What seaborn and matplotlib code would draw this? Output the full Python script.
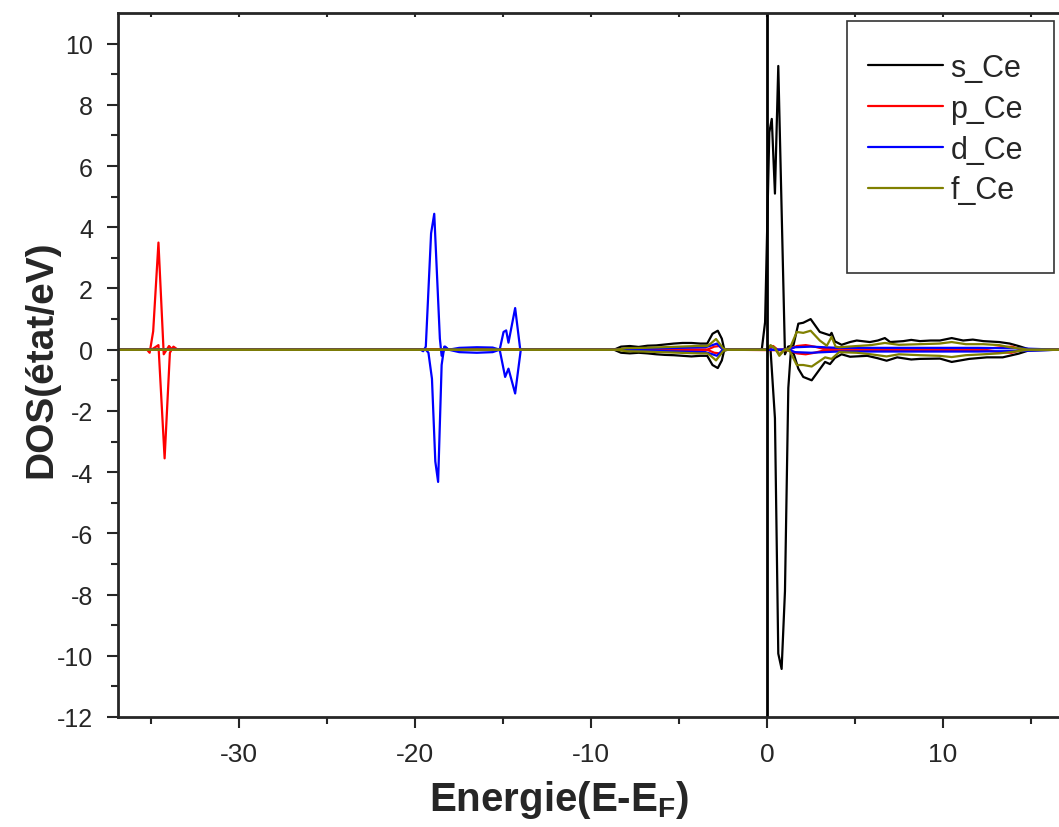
import numpy as np
import pandas as pd
import matplotlib
matplotlib.use("Agg")
import matplotlib.pyplot as plt
import matplotlib.lines as mlines
from matplotlib.patches import Rectangle
from matplotlib.lines import Line2D
import seaborn as sns

# projected DOS of Ce, spin up (>0) and spin down (<0)
s_up_E = [-37, -8.7, -8.3, -7.8, -7.3, -6.8, -6.3, -5.8, -5.3, -4.8, -4.3, -3.8, -3.4, -3.1, -2.8, -2.57,
          -2.44, -2.2, -0.3, -0.11, 0.13, 0.27, 0.45, 0.64, 1.02, 1.2, 1.5, 1.78, 2.06, 2.48, 3.0, 3.58,
          3.67, 3.86, 4.24, 4.72, 5.1, 5.85, 6.3, 6.7, 7.0, 7.75, 8.2, 8.7, 9.3, 9.83, 10.5, 11.15, 11.7,
          12.3, 13.2, 13.8, 14.3, 14.85, 16.6]
s_up = [0, 0, 0.1, 0.12, 0.09, 0.13, 0.14, 0.17, 0.2, 0.22, 0.22, 0.2, 0.2, 0.52, 0.62, 0.36,
        0.03, 0, 0, 0.9, 7.1, 7.54, 5.1, 9.27, -0.15, 0.1, 0.14, 0.85, 0.88, 1.0, 0.58, 0.47,
        0.55, 0.27, 0.16, 0.25, 0.3, 0.25, 0.3, 0.38, 0.25, 0.28, 0.32, 0.28, 0.3, 0.3, 0.38, 0.3, 0.33,
        0.28, 0.25, 0.2, 0.12, 0.02, 0]
s_dn_E = [-37, -8.7, -8.3, -7.8, -7.3, -6.8, -6.3, -5.8, -5.3, -4.8, -4.3, -3.8, -3.4, -3.1, -2.8, -2.57,
          -2.44, -2.2, 0.2, 0.45, 0.64, 0.83, 1.02, 1.21, 1.35, 1.5, 1.78, 2.06, 2.54, 3.3, 3.58, 3.86,
          4.24, 4.72, 5.7, 6.3, 6.8, 7.4, 8.2, 8.7, 9.83, 10.5, 11.5, 12.5, 13.4, 14.3, 14.85, 16.6]
s_dn = [0, 0, -0.1, -0.12, -0.1, -0.12, -0.15, -0.17, -0.18, -0.2, -0.22, -0.2, -0.2, -0.5, -0.6, -0.35,
        -0.03, 0, 0, -2.24, -9.93, -10.43, -7.89, -1.25, -0.1, -0.1, -0.62, -0.89, -1.0, -0.4, -0.47, -0.27,
        -0.15, -0.23, -0.2, -0.28, -0.36, -0.25, -0.32, -0.3, -0.29, -0.4, -0.3, -0.25, -0.25, -0.13, -0.03, 0]

p_up_E = [-37, -35.25, -35.1, -34.9, -34.6, -34.3, -34.0, -33.8, -3.4, -3.0, -2.7, -2.5, 0.1, 0.35, 0.6,
          1.3, 1.7, 2.2, 2.7, 3.2, 12.5, 13.3, 13.9, 14.5, 16.6]
p_up = [0, 0, -0.1, 0.6, 3.5, -0.15, 0.12, 0, 0, 0.1, 0.12, 0, 0, 0.12, 0,
        0.02, 0.12, 0.15, 0.1, 0.03, 0.03, 0.08, 0.1, 0.0, 0]
p_dn_E = [-37, -35.0, -34.6, -34.25, -33.95, -33.75, -33.5, -3.4, -3.0, -2.7, -2.5, 1.3, 1.7, 2.2,
          2.7, 3.2, 12.5, 13.3, 13.9, 14.5, 16.6]
p_dn = [0, 0, 0.15, -3.55, -0.1, 0.1, 0, 0, -0.1, -0.12, 0, -0.02, -0.12, -0.15,
        -0.1, -0.03, -0.03, -0.08, -0.1, 0, 0]

d_up_E = [-37, -19.7, -19.55, -19.4, -19.1, -18.92, -18.6, -18.5, -18.3, -18.1, -17.5, -16.5, -15.6, -15.2,
          -14.98, -14.83, -14.7, -14.32, -14.03, -13.8, -8.6, -7.0, -5.0, -3.5, -3.1, -2.85, -2.5,
          1.2, 1.6, 2.5, 4.0, 8.0, 12.0, 14.5, 16.6]
d_up = [0, 0, -0.05, 0.1, 3.8, 4.44, 0.36, -0.2, 0.1, 0, 0.06, 0.08, 0.07, 0,
        0.58, 0.63, 0.23, 1.36, 0, 0, 0, 0.03, 0.06, 0.08, 0.15, 0.2, 0,
        0, 0.08, 0.1, 0.06, 0.06, 0.06, 0.04, 0]
d_dn_E = [-37, -19.4, -19.25, -19.05, -18.86, -18.7, -18.5, -18.35, -18.1, -17.5, -16.5, -15.6, -15.2,
          -14.89, -14.7, -14.32, -14.0, -13.8, -8.6, -7.0, -5.0, -3.5, -3.1, -2.85, -2.5,
          1.2, 1.6, 2.5, 4.0, 8.0, 12.0, 14.5, 16.6]
d_dn = [0, 0, -0.1, -0.95, -3.65, -4.32, -0.5, 0.1, 0, -0.08, -0.1, -0.08, 0,
        -0.89, -0.62, -1.43, 0, 0, 0, -0.03, -0.06, -0.08, -0.15, -0.2, 0,
        0, -0.08, -0.1, -0.06, -0.06, -0.06, -0.04, 0]

f_up_E = [-37, -8.6, -8.0, -7.0, -6.0, -5.0, -4.0, -3.4, -3.2, -2.9, -2.5, -2.3, 0.0, 0.2, 0.45, 0.7,
          1.0, 1.3, 1.69, 2.06, 2.48, 3.0, 3.4, 3.67, 3.9, 4.1, 5.1, 5.9, 6.7, 7.5, 8.7, 9.8, 10.5,
          11.3, 12.3, 13.2, 13.8, 14.5, 14.85, 16.6]
f_up = [0, 0, 0.05, 0.06, 0.08, 0.1, 0.12, 0.12, 0.2, 0.35, 0.05, 0, 0, 0.15, 0.05, -0.2,
        0, 0.05, 0.58, 0.55, 0.62, 0.3, 0.13, 0.42, 0.1, 0.08, 0.12, 0.15, 0.22, 0.16, 0.18, 0.2, 0.25,
        0.18, 0.18, 0.15, 0.08, 0.03, 0, 0]
f_dn_E = [-37, -8.6, -8.0, -7.0, -6.0, -5.0, -4.0, -3.4, -3.2, -2.9, -2.5, -2.3, 0.0, 0.2, 0.45, 0.7,
          1.0, 1.3, 1.69, 2.06, 2.54, 3.3, 3.67, 4.1, 5.1, 5.9, 6.8, 7.5, 8.7, 9.8, 10.5, 11.3,
          12.3, 13.2, 13.8, 14.5, 14.85, 16.6]
f_dn = [0, 0, -0.05, -0.06, -0.08, -0.1, -0.12, -0.12, -0.2, -0.35, -0.05, 0, 0, 0.12, 0.05, -0.15,
        0, -0.05, -0.5, -0.5, -0.55, -0.25, -0.3, -0.08, -0.1, -0.15, -0.22, -0.15, -0.18, -0.2, -0.24, -0.18,
        -0.15, -0.12, -0.08, -0.03, 0, 0]

orbitals = ["s_Ce", "p_Ce", "d_Ce", "f_Ce"]
colors = ["#000000", "#ff0000", "#0000ff", "#808000"]

curves = [("s_Ce", "up", s_up_E, s_up), ("s_Ce", "dn", s_dn_E, s_dn),
          ("p_Ce", "up", p_up_E, p_up), ("p_Ce", "dn", p_dn_E, p_dn),
          ("d_Ce", "up", d_up_E, d_up), ("d_Ce", "dn", d_dn_E, d_dn),
          ("f_Ce", "up", f_up_E, f_up), ("f_Ce", "dn", f_dn_E, f_dn)]
frames = []
for orb, spin, e, v in curves:
    frames.append(pd.DataFrame({"E": e, "DOS": v, "orbital": orb, "spin": spin}))
df = pd.concat(frames, ignore_index=True)

sns.set_style("ticks")
plt.rcParams["font.family"] = ["Liberation Sans", "DejaVu Sans"]
plt.rcParams["axes.unicode_minus"] = False
plt.rcParams["mathtext.fontset"] = "custom"
plt.rcParams["mathtext.rm"] = "Liberation Sans:bold"
plt.rcParams["mathtext.default"] = "rm"

fig = plt.figure(figsize=(10.59, 8.28), dpi=100)
ax = fig.add_axes([118 / 1059, 110 / 828, 941 / 1059, 704 / 828])

for orb, c in zip(orbitals, colors):
    sub = df[df["orbital"] == orb]
    sns.lineplot(data=sub, x="E", y="DOS", units="spin", estimator=None, sort=False,
                 color=c, lw=1.6, ax=ax, legend=False)

ax.axvline(0, color="black", lw=2)

ax.set_xlim(-36.9, 16.6)
ax.set_ylim(-12, 11)
ax.set_xticks([-30, -20, -10, 0, 10])
ax.set_xticks([-35, -25, -15, -5, 5, 15], minor=True)
ax.set_yticks(np.arange(-12, 11, 2))
ax.set_yticks(np.arange(-11, 11, 2), minor=True)
ax.tick_params(axis="both", which="major", length=8, width=1.5, direction="out")
ax.tick_params(axis="both", which="minor", length=5, width=1.5, direction="out")
ax.tick_params(axis="y", which="major", pad=10, labelsize=18)
ax.tick_params(axis="x", top=True, which="both", pad=10, labelsize=19)
# top ticks point inward and are short
for t in ax.xaxis.get_major_ticks() + ax.xaxis.get_minor_ticks():
    t.tick2line.set_marker(mlines.TICKDOWN)
    t.tick2line.set_markersize(3)
for sp in ax.spines.values():
    sp.set_linewidth(2)
ax.spines["right"].set_visible(False)

ax.set_xlabel("Energie(E-E$_F$)", fontsize=29, fontweight="bold")
ax.xaxis.set_label_coords((559 - 118) / 941, -0.087)
ax.set_ylabel("DOS(état/eV)", fontsize=28, fontweight="bold")
ax.yaxis.set_label_coords(-0.062, 0.51)

# Origin-style legend box
ax.add_patch(Rectangle((0.775, 0.631), 0.22, 0.358, transform=ax.transAxes,
                       fill=False, edgecolor="#333333", lw=1.2, zorder=5))
handles = [Line2D([], [], color=c, lw=1.6) for c in colors]
ax.legend(handles, orbitals, loc="upper left", bbox_to_anchor=(0.797, 0.943), frameon=False,
          fontsize=22, handlelength=2.45, handletextpad=0.25, labelspacing=0.35,
          borderpad=0, borderaxespad=0)

fig.savefig("out.png", dpi=100)
